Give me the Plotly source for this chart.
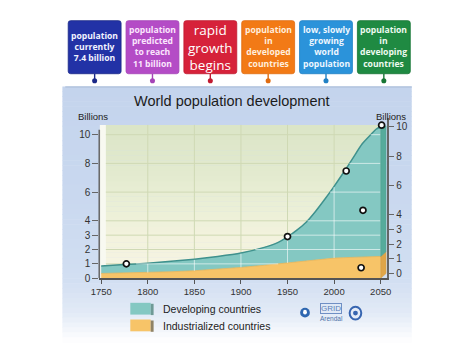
import numpy as np
import plotly.graph_objects as go

# ---------------- data ----------------
years = [1750, 1775, 1800, 1825, 1850, 1875, 1900, 1925, 1940, 1950, 1960,
         1970, 1980, 1990, 2000, 2010, 2020, 2030, 2040, 2045, 2050]
world_total = [0.85, 0.95, 1.05, 1.18, 1.33, 1.52, 1.76, 2.15, 2.5, 2.88, 3.35,
               3.9, 4.65, 5.5, 6.4, 7.35, 8.35, 9.35, 10.05, 10.38, 10.55]
industrialized = [0.33, 0.36, 0.39, 0.45, 0.52, 0.62, 0.75, 0.9, 1.0, 1.07, 1.17,
                  1.25, 1.31, 1.36, 1.4, 1.43, 1.45, 1.47, 1.49, 1.5, 1.52]

marker_years = [1777, 1950, 2013, 2051, 2031, 2029]
marker_values = [1.0, 2.9, 7.47, 10.66, 4.73, 0.73]

x_ticks = [1750, 1800, 1850, 1900, 1950, 2000, 2050]
y_ticks = [0, 1, 2, 3, 4, 6, 8, 10]

box_labels = ["<b>population<br>currently<br>7.4 billion</b>",
              "<b>population<br>predicted<br>to reach<br>11 billion</b>",
              "rapid<br>growth<br>begins",
              "<b>population<br>in<br>developed<br>countries</b>",
              "<b>low, slowly<br>growing<br>world<br>population</b>",
              "<b>population<br>in<br>developing<br>countries</b>"]
box_colors = ["#2232a6", "#b44cc6", "#d6223a", "#f27a16", "#2b93da", "#1f8a42"]
pin_colors = ["#1a2888", "#a444b6", "#c01a30", "#e06c10", "#2080c4", "#177534"]
box_text_colors = ["#f2f4ff", "#fbe6fd", "#ffffff", "#ffeedd", "#eef7ff", "#eefaf0"]
box_font_sizes = [8.6, 8.6, 13.5, 8.6, 8.6, 8.6]

legend_labels = ["Developing countries", "Industrialized countries"]

# ---------------- helpers ----------------
W, H = 474, 355
FONT = "Liberation Sans, Arial, sans-serif"


def fx(px):
    return px / W


def fy(py):
    return 1 - py / H


def hex2rgb(h):
    h = h.lstrip("#")
    return [int(h[i:i + 2], 16) for i in (0, 2, 4)]


def interp_color(stops, t):
    for (p0, c0), (p1, c1) in zip(stops[:-1], stops[1:]):
        if p0 <= t <= p1:
            f = 0 if p1 == p0 else (t - p0) / (p1 - p0)
            a, b = hex2rgb(c0), hex2rgb(c1)
            return "rgb(%d,%d,%d)" % tuple(round(a[i] + (b[i] - a[i]) * f) for i in range(3))
    return stops[-1][1]


def rr_path(x0, y0, x1, y1, r):
    X = lambda v: "%.5f" % fx(v)
    Y = lambda v: "%.5f" % fy(v)
    return ("M %s,%s L %s,%s Q %s,%s %s,%s L %s,%s Q %s,%s %s,%s L %s,%s Q %s,%s %s,%s "
            "L %s,%s Q %s,%s %s,%s Z") % (
        X(x0 + r), Y(y0), X(x1 - r), Y(y0), X(x1), Y(y0), X(x1), Y(y0 + r),
        X(x1), Y(y1 - r), X(x1), Y(y1), X(x1 - r), Y(y1),
        X(x0 + r), Y(y1), X(x0), Y(y1), X(x0), Y(y1 - r),
        X(x0), Y(y0 + r), X(x0), Y(y0), X(x0 + r), Y(y0))


shapes = []
annotations = []

# ---------------- panel background (gradient bands) ----------------
panel_stops = [(88, "#c4d4ed"), (200, "#c9d8ef"), (285, "#d2dff2"), (318, "#e2eaf6"), (348, "#ffffff")]
n = 52
edges = np.linspace(88, 348, n + 1)
for i in range(n):
    c = interp_color(panel_stops, (edges[i] + edges[i + 1]) / 2)
    shapes.append(dict(type="rect", xref="paper", yref="paper", layer="below",
                       x0=fx(55), x1=fx(415), y0=fy(edges[i]), y1=fy(edges[i + 1] + 0.6),
                       fillcolor=c, line=dict(width=0)))
shapes.append(dict(type="line", xref="paper", yref="paper", layer="below",
                   x0=fx(58), x1=fx(415), y0=fy(88.5), y1=fy(88.5),
                   line=dict(color="#b3c4de", width=1.5)))

# ---------------- top boxes ----------------
for i, (lab, col) in enumerate(zip(box_labels, box_colors)):
    x0 = 61 + i * 59.6
    x1 = x0 + 54.5
    cx = (x0 + x1) / 2
    shapes.append(dict(type="path", xref="paper", yref="paper", path=rr_path(x0, 21, x1, 75, 2.5),
                       fillcolor=col, line=dict(color=pin_colors[i], width=0.8)))
    shapes.append(dict(type="line", xref="paper", yref="paper", x0=fx(cx), x1=fx(cx),
                       y0=fy(75), y1=fy(80.5), line=dict(color=pin_colors[i], width=1.4)))
    shapes.append(dict(type="circle", xref="paper", yref="paper",
                       x0=fx(cx - 2.6), x1=fx(cx + 2.6), y0=fy(84.8), y1=fy(79.6),
                       fillcolor=pin_colors[i], line=dict(width=0)))
    annotations.append(dict(x=fx(cx), y=fy(48), xref="paper", yref="paper", text=lab,
                            showarrow=False, xanchor="center", yanchor="middle",
                            font=dict(family="Open Sans, " + FONT, size=box_font_sizes[i],
                                      color=box_text_colors[i])))

# ---------------- plot area background ----------------
bg_top = 10.68
bg_stops = [(0, "#f7f5e3"), (3, "#f2f2dd"), (5.5, "#e9eed5"), (8, "#e1e9cd"), (bg_top, "#dbe5c7")]
nb = 30
vedges = np.linspace(0, bg_top, nb + 1)
for i in range(nb):
    c = interp_color(bg_stops, (vedges[i] + vedges[i + 1]) / 2)
    shapes.append(dict(type="rect", xref="x", yref="y", layer="below",
                       x0=years[0], x1=years[-1], y0=vedges[i], y1=min(vedges[i + 1] + 0.02, bg_top),
                       fillcolor=c, line=dict(width=0)))
shapes.append(dict(type="rect", xref="x", yref="y", layer="below",
                   x0=years[0] - 1.5, x1=years[0] + 5, y0=0, y1=bg_top,
                   fillcolor="#f8f9f1", line=dict(width=0)))
for v in y_ticks[1:]:
    shapes.append(dict(type="line", xref="x", yref="y", layer="below",
                       x0=years[0] + 5, x1=years[-1], y0=v, y1=v,
                       line=dict(color="#cfd9b4", width=1)))
for yr in x_ticks[1:-1]:
    shapes.append(dict(type="line", xref="x", yref="y", layer="below",
                       x0=yr, x1=yr, y0=0, y1=bg_top,
                       line=dict(color="#cfd9b4", width=1)))
shapes.append(dict(type="line", xref="paper", yref="y", x0=fx(93), x1=fx(93), y0=0, y1=10.35,
                   line=dict(color="#6a6a6a", width=1.6)))

# ---------------- traces ----------------
fig = go.Figure()
TEAL = "#84c8c2"
ORANGE = "#f7c468"

fig.add_trace(go.Scatter(x=years, y=industrialized, mode="lines", fill="tozeroy",
                         fillcolor=ORANGE, line=dict(color="#eab456", width=0.8),
                         hoverinfo="skip", name=legend_labels[1]))
fig.add_trace(go.Scatter(x=years, y=world_total, mode="lines", fill="tonexty",
                         fillcolor=TEAL, line=dict(color="#3f918d", width=1.5, shape="spline", smoothing=0.6),
                         hoverinfo="skip", name=legend_labels[0]))

gx, gy = [], []
for v in y_ticks[1:]:
    if v >= max(world_total):
        continue
    xs = years[0] if v <= world_total[0] else float(np.interp(v, world_total, years))
    xe_ = years[-1] if v >= max(industrialized) else float(np.interp(v, industrialized, years))
    if xe_ > xs:
        gx += [xs, xe_, None]
        gy += [v, v, None]
for yr in x_ticks[1:-1]:
    gx += [yr, yr, None]
    gy += [float(np.interp(yr, years, industrialized)), float(np.interp(yr, years, world_total)) - 0.05, None]
fig.add_trace(go.Scatter(x=gx, y=gy, mode="lines", line=dict(color="rgba(255,255,255,0.6)", width=1),
                         hoverinfo="skip", connectgaps=False))

depth_x, depth_y = 6, 0.34
xe = years[-1]
fig.add_trace(go.Scatter(x=[xe, xe + depth_x, xe + depth_x, xe, xe],
                         y=[0, depth_y, industrialized[-1] + depth_y, industrialized[-1], 0],
                         mode="lines", fill="toself", fillcolor="#dfa548",
                         line=dict(color="#d39a40", width=0.5), hoverinfo="skip"))
fig.add_trace(go.Scatter(x=[xe, xe + depth_x, xe + depth_x, xe, xe],
                         y=[industrialized[-1], industrialized[-1] + depth_y, world_total[-1] + 0.05,
                            world_total[-1], industrialized[-1]],
                         mode="lines", fill="toself", fillcolor="#56ab9b",
                         line=dict(color="#4c9f90", width=0.5), hoverinfo="skip"))

fig.add_trace(go.Scatter(x=marker_years, y=marker_values, mode="markers",
                         marker=dict(size=6, color="white", line=dict(color="#111111", width=1.7)),
                         hoverinfo="skip"))

fig.add_trace(go.Scatter(x=[years[-1]], y=[0], yaxis="y2", mode="markers",
                         marker=dict(opacity=0), hoverinfo="skip"))

# ---------------- legend (drawn) ----------------
sw = [(308, TEAL, "#6f9a96"), (325, ORANGE, "#8f8366")]
for (y0, col, side), lab in zip(sw, legend_labels):
    shapes.append(dict(type="rect", xref="paper", yref="paper", x0=fx(125), x1=fx(146),
                       y0=fy(y0 + 12), y1=fy(y0), fillcolor=col, line=dict(width=0)))
    shapes.append(dict(type="rect", xref="paper", yref="paper", x0=fx(146), x1=fx(149),
                       y0=fy(y0 + 12.5), y1=fy(y0 + 1), fillcolor=side, line=dict(width=0)))
    annotations.append(dict(x=fx(157), y=fy(y0 + 6.5), xref="paper", yref="paper", text=lab,
                            showarrow=False, xanchor="left", yanchor="middle",
                            font=dict(family=FONT, size=10.5, color="#222222")))

# ---------------- logos (approximate) ----------------
shapes.append(dict(type="circle", xref="paper", yref="paper", x0=fx(300), x1=fx(310),
                   y0=fy(323), y1=fy(313), fillcolor="#2f67b0", line=dict(width=0)))
shapes.append(dict(type="circle", xref="paper", yref="paper", x0=fx(303), x1=fx(307),
                   y0=fy(320), y1=fy(315), fillcolor="#ffffff", line=dict(width=0)))
annotations.append(dict(x=fx(332), y=fy(314), xref="paper", yref="paper", text="GRID",
                        showarrow=False, xanchor="center", yanchor="middle",
                        font=dict(family=FONT, size=8, color="#5b7fb8"),
                        bordercolor="#6f8fc4", borderwidth=1, borderpad=0))
annotations.append(dict(x=fx(332), y=fy(323.5), xref="paper", yref="paper", text="Arendal",
                        showarrow=False, xanchor="center", yanchor="middle",
                        font=dict(family=FONT, size=6.5, color="#4b6fa8")))
shapes.append(dict(type="circle", xref="paper", yref="paper", x0=fx(351), x1=fx(363),
                   y0=fy(325), y1=fy(312), fillcolor="#e4ebf7", line=dict(color="#3765b0", width=2)))
shapes.append(dict(type="circle", xref="paper", yref="paper", x0=fx(354.5), x1=fx(359.5),
                   y0=fy(321), y1=fy(316), fillcolor="#3765b0", line=dict(width=0)))

# ---------------- titles ----------------
annotations.append(dict(x=fx(230), y=fy(103), xref="paper", yref="paper",
                        text="World population development", showarrow=False,
                        xanchor="center", yanchor="middle",
                        font=dict(family=FONT, size=14.5, color="#1c1c1c")))
annotations.append(dict(x=fx(87), y=fy(118), xref="paper", yref="paper", text="Billions",
                        showarrow=False, xanchor="center", yanchor="middle",
                        font=dict(family=FONT, size=9.5, color="#222222")))
annotations.append(dict(x=fx(394), y=fy(118), xref="paper", yref="paper", text="Billions",
                        showarrow=False, xanchor="center", yanchor="middle",
                        font=dict(family=FONT, size=9.5, color="#222222")))

# ---------------- layout ----------------
px_per_year = 0.96
x0_val = years[0] - (95 - 93) / px_per_year
x1_val = x0_val + (389 - 93) / px_per_year
left_ppu = 14.6
right_ppu = 14.9

fig.update_layout(
    width=W, height=H, margin=dict(l=0, r=0, t=0, b=0),
    paper_bgcolor="white", plot_bgcolor="rgba(0,0,0,0)",
    showlegend=False, shapes=shapes, annotations=annotations,
    font=dict(family=FONT),
    xaxis=dict(domain=[fx(93), fx(389)], range=[x0_val, x1_val], tickvals=x_ticks,
               ticks="outside", ticklen=4, tickcolor="#555555", tickwidth=1.2,
               showline=True, linecolor="#555555", linewidth=1.6, showgrid=False, zeroline=False,
               tickfont=dict(size=9.5, color="#333333"), anchor="y", fixedrange=True),
    yaxis=dict(domain=[fy(283), fy(120)], range=[0, (283 - 120) / left_ppu], tickvals=y_ticks,
               ticks="outside", ticklen=6, tickcolor="#666666", tickwidth=1.2,
               showline=False, showgrid=False, zeroline=False,
               tickfont=dict(size=10, color="#333333"), fixedrange=True),
    yaxis2=dict(overlaying="y", side="right", anchor="x",
                range=[-(283 - 278) / right_ppu, (278 - 120) / right_ppu], tickvals=y_ticks,
                ticks="outside", ticklen=6, tickcolor="#666666", tickwidth=1.2,
                showline=True, linecolor="#666666", linewidth=1.6, showgrid=False, zeroline=False,
                tickfont=dict(size=10, color="#333333"), fixedrange=True),
)

fig.write_html("out.html", config={"displayModeBar": False},
               post_script="document.body.style.margin='0';document.body.style.overflow='hidden';")
